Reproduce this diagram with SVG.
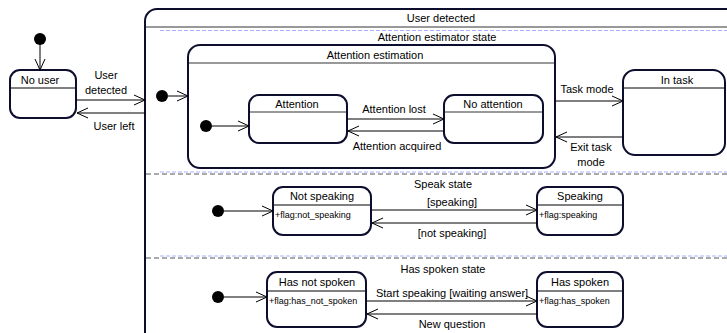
<svg xmlns="http://www.w3.org/2000/svg" width="727" height="333" viewBox="0 0 727 333">
<defs>
<style>
text{font-family:"Liberation Sans",Arial,sans-serif;font-size:11px;fill:#000}
.c{text-anchor:middle}
.s{font-size:9px}
.box{fill:#fff;stroke:#0d0d2e;stroke-width:2}
.hl{stroke:#000;stroke-width:1}
.gl{stroke:#777;stroke-width:1.5}
.e{stroke:#000;stroke-width:1;fill:none}
.bd{stroke:#aab0ff;stroke-width:1;stroke-dasharray:4 2}
.gd{stroke:#555;stroke-width:1;stroke-dasharray:5 3}
</style>
<marker id="a" markerWidth="12" markerHeight="12" refX="11" refY="6" orient="auto" markerUnits="userSpaceOnUse">
<path d="M0,1 L11,6 L0,11" fill="none" stroke="#000" stroke-width="1"/>
</marker>
</defs>
<g id="user-detected">
<rect x="145" y="9" width="640" height="360" rx="12" fill="#fff" stroke="#0d0d2e" stroke-width="2"/>
<line class="gl" x1="146" y1="27" x2="727" y2="27"/>
<text class="c" x="441" y="22">User detected</text>
<line class="bd" x1="160" y1="30.5" x2="727" y2="30.5"/>
<text class="c" x="437" y="41">Attention estimator state</text>
<line class="bd" x1="160" y1="172" x2="727" y2="172"/>
<line class="gd" x1="146" y1="174" x2="727" y2="174"/>
<text class="c" x="443" y="188">Speak state</text>
<line class="bd" x1="160" y1="256" x2="727" y2="256"/>
<line class="gd" x1="146" y1="258" x2="727" y2="258"/>
<text class="c" x="443" y="273">Has spoken state</text>
</g>
<g id="init-main"><circle cx="40" cy="39" r="6"/></g>
<g id="no-user">
<rect class="box" x="10" y="70" width="66" height="48" rx="10"/>
<line class="hl" x1="11" y1="88" x2="75" y2="88"/>
<text class="c" x="40" y="84">No user</text>
</g>
<g id="init-attn-state"><circle cx="162" cy="96" r="6"/></g>
<g id="attention-estimation">
<rect class="box" x="188" y="45" width="367" height="123" rx="12"/>
<line class="gl" x1="189" y1="63" x2="554" y2="63"/>
<text class="c" x="375" y="59">Attention estimation</text>
</g>
<g id="init-attn"><circle cx="206" cy="126" r="6"/></g>
<g id="attention">
<rect class="box" x="249" y="95" width="98" height="48" rx="10"/>
<line class="gl" x1="250" y1="112" x2="346" y2="112"/>
<text class="c" x="297" y="108">Attention</text>
</g>
<g id="no-attention">
<rect class="box" x="444" y="95" width="99" height="48" rx="10"/>
<line class="gl" x1="445" y1="112" x2="542" y2="112"/>
<text class="c" x="493" y="108">No attention</text>
</g>
<g id="in-task">
<rect class="box" x="623" y="70" width="102" height="85" rx="12"/>
<line class="hl" x1="624" y1="88" x2="724" y2="88"/>
<text class="c" x="677" y="84">In task</text>
</g>
<g id="init-speak"><circle cx="218" cy="211" r="6"/></g>
<g id="not-speaking">
<rect class="box" x="273" y="187" width="98" height="48" rx="10"/>
<line class="hl" x1="274" y1="205" x2="370" y2="205"/>
<text class="c" x="322" y="200">Not speaking</text>
<text class="s" x="275" y="218">+flag:not_speaking</text>
</g>
<g id="speaking">
<rect class="box" x="537" y="187" width="86" height="48" rx="10"/>
<line class="hl" x1="538" y1="205" x2="622" y2="205"/>
<text class="c" x="580" y="200">Speaking</text>
<text class="s" x="539" y="218">+flag:speaking</text>
</g>
<g id="init-spoken"><circle cx="218" cy="297" r="6"/></g>
<g id="has-not-spoken">
<rect class="box" x="267" y="272" width="99" height="55" rx="10"/>
<line class="hl" x1="268" y1="291" x2="365" y2="291"/>
<text class="c" x="317" y="286">Has not spoken</text>
<text class="s" x="269" y="304">+flag:has_not_spoken</text>
</g>
<g id="has-spoken">
<rect class="box" x="537" y="272" width="86" height="55" rx="10"/>
<line class="hl" x1="538" y1="291" x2="622" y2="291"/>
<text class="c" x="580" y="286">Has spoken</text>
<text class="s" x="539" y="304">+flag:has_spoken</text>
</g>
<g id="connectors">
<line class="e" x1="40" y1="45" x2="40" y2="70" marker-end="url(#a)"/>
<line class="e" x1="76" y1="100" x2="145" y2="100" marker-end="url(#a)"/>
<text class="c" x="106" y="79">User</text>
<text class="c" x="106" y="94">detected</text>
<line class="e" x1="145" y1="113" x2="77" y2="113" marker-end="url(#a)"/>
<text class="c" x="114" y="130">User left</text>
<line class="e" x1="168" y1="96" x2="188" y2="96" marker-end="url(#a)"/>
<line class="e" x1="212" y1="126" x2="249" y2="126" marker-end="url(#a)"/>
<line class="e" x1="347" y1="119" x2="444" y2="119" marker-end="url(#a)"/>
<text class="c" x="394" y="113">Attention lost</text>
<line class="e" x1="444" y1="131" x2="348" y2="131" marker-end="url(#a)"/>
<text class="c" x="397" y="150">Attention acquired</text>
<line class="e" x1="555" y1="101" x2="623" y2="101" marker-end="url(#a)"/>
<text class="c" x="587" y="93">Task mode</text>
<line class="e" x1="623" y1="137" x2="556" y2="137" marker-end="url(#a)"/>
<text class="c" x="591" y="151">Exit task</text>
<text class="c" x="591" y="166">mode</text>
<line class="e" x1="224" y1="211" x2="273" y2="211" marker-end="url(#a)"/>
<line class="e" x1="371" y1="210" x2="537" y2="210" marker-end="url(#a)"/>
<text class="c" x="452" y="206">[speaking]</text>
<line class="e" x1="537" y1="223" x2="372" y2="223" marker-end="url(#a)"/>
<text class="c" x="452" y="237">[not speaking]</text>
<line class="e" x1="224" y1="297" x2="267" y2="297" marker-end="url(#a)"/>
<line class="e" x1="366" y1="301" x2="537" y2="301" marker-end="url(#a)"/>
<text class="c" x="452" y="297">Start speaking [waiting answer]</text>
<line class="e" x1="537" y1="314" x2="367" y2="314" marker-end="url(#a)"/>
<text class="c" x="452" y="328">New question</text>
</g>
</svg>
